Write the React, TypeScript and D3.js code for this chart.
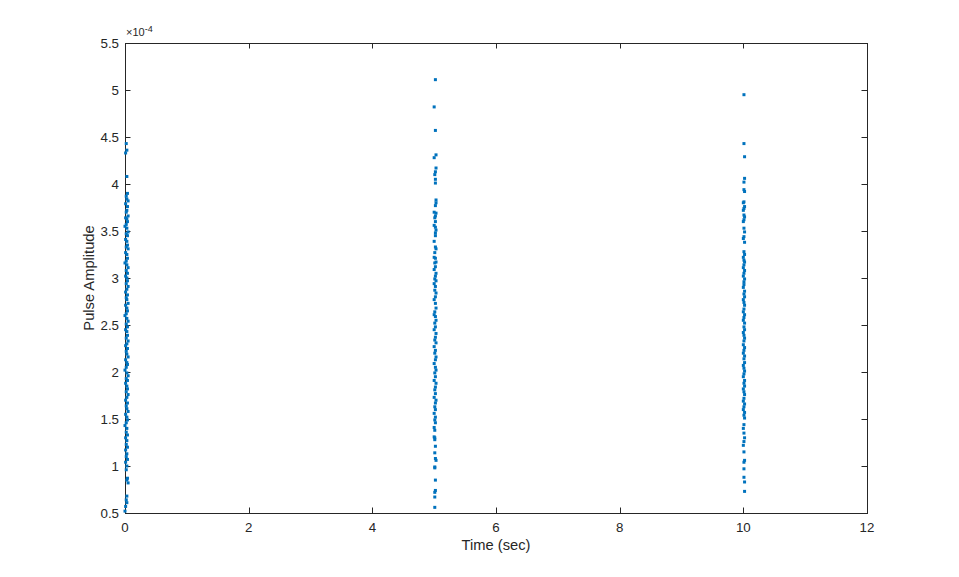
import * as d3 from 'd3';

// pulse amplitudes (x1e-4), as [time, amplitude]
const burst0: [number, number][] = [
  [0.02,4.43],[0.03,4.36],[0.01,4.33],[0.03,4.08],[0.04,3.90],[0.02,3.87],[0.03,3.84],[0.05,3.82],[0.01,3.79],[0.04,3.76],
  [0.03,3.72],[0.02,3.70],[0.05,3.66],[0.01,3.64],[0.03,3.63],[0.04,3.60],[0.02,3.57],[0.00,3.55],[0.03,3.53],[0.05,3.49],
  [0.02,3.47],[0.04,3.45],[0.01,3.41],[0.03,3.39],[0.04,3.35],[0.02,3.33],[0.05,3.31],[0.01,3.27],[0.03,3.25],[0.04,3.21],
  [0.02,3.18],[0.00,3.16],[0.03,3.14],[0.05,3.11],[0.02,3.08],[0.04,3.05],[0.01,3.02],[0.03,3.00],[0.04,2.97],[0.02,2.94],
  [0.05,2.91],[0.03,2.88],[0.01,2.85],[0.04,2.82],[0.02,2.79],[0.03,2.77],[0.05,2.73],[0.01,2.71],[0.03,2.68],[0.04,2.65],
  [0.02,2.62],[0.00,2.60],[0.03,2.57],[0.05,2.54],[0.02,2.51],[0.04,2.48],[0.01,2.45],[0.03,2.43],[0.04,2.39],[0.02,2.36],
  [0.05,2.33],[0.03,2.30],[0.01,2.28],[0.04,2.25],[0.02,2.22],[0.03,2.19],[0.05,2.16],[0.01,2.13],[0.03,2.10],[0.04,2.08],
  [0.02,2.05],[0.00,2.02],[0.03,1.99],[0.05,1.96],[0.02,1.93],[0.04,1.91],[0.01,1.88],[0.03,1.85],[0.04,1.82],[0.02,1.79],
  [0.05,1.76],[0.03,1.73],[0.01,1.70],[0.04,1.67],[0.02,1.64],[0.03,1.61],[0.05,1.58],[0.01,1.55],[0.03,1.52],[0.04,1.49],
  [0.02,1.46],[0.00,1.43],[0.03,1.40],[0.02,1.36],[0.04,1.33],[0.01,1.30],[0.03,1.27],[0.02,1.23],[0.04,1.20],[0.01,1.17],
  [0.03,1.13],[0.02,1.10],[0.04,1.07],[0.01,1.04],[0.03,1.00],[0.02,0.96],[0.04,0.87],[0.03,0.85],[0.05,0.82],[0.03,0.68],
  [0.02,0.64],[0.03,0.61],[0.01,0.57],[0.00,0.52],
];

const burst5: [number, number][] = [
  [5.02,5.11],[5.00,4.82],[5.02,4.57],[5.03,4.31],[5.00,4.28],[5.03,4.17],[5.02,4.13],[5.01,4.10],[5.02,4.05],[5.02,4.01],
  [5.03,3.83],[5.03,3.80],[5.02,3.77],[5.00,3.70],[5.03,3.69],[5.02,3.66],[5.01,3.64],[5.02,3.60],[5.00,3.56],[5.02,3.54],
  [5.03,3.51],[5.02,3.48],[5.02,3.45],[5.00,3.39],[5.02,3.33],[5.03,3.31],[5.01,3.27],[5.00,3.22],[5.02,3.21],[5.03,3.17],
  [5.01,3.16],[5.02,3.12],[5.00,3.09],[5.03,3.05],[5.02,3.02],[5.01,2.99],[5.03,2.97],[5.00,2.94],[5.02,2.91],[5.01,2.87],
  [5.03,2.84],[5.02,2.80],[5.00,2.77],[5.02,2.73],[5.03,2.68],[5.01,2.64],[5.00,2.61],[5.02,2.59],[5.03,2.55],[5.01,2.52],
  [5.02,2.48],[5.00,2.45],[5.03,2.41],[5.02,2.37],[5.01,2.34],[5.03,2.31],[5.00,2.27],[5.02,2.23],[5.01,2.20],[5.03,2.16],
  [5.02,2.13],[5.00,2.09],[5.02,2.05],[5.03,2.02],[5.01,1.99],[5.02,1.95],[5.00,1.91],[5.03,1.88],[5.02,1.84],[5.01,1.81],
  [5.02,1.77],[5.00,1.73],[5.03,1.70],[5.02,1.67],[5.01,1.63],[5.02,1.60],[5.00,1.56],[5.02,1.52],[5.01,1.49],[5.02,1.46],
  [5.00,1.41],[5.01,1.38],[5.00,1.31],[5.01,1.30],[5.01,1.28],[5.02,1.21],[5.01,1.14],[5.02,1.08],[5.03,1.06],[5.01,0.99],
  [5.01,0.98],[5.02,0.85],[5.02,0.74],[5.01,0.72],[5.01,0.67],[5.01,0.56],
];

const burst10: [number, number][] = [
  [10.01,4.95],[10.01,4.43],[10.02,4.29],[10.02,4.06],[10.01,4.02],[10.01,3.94],[10.02,3.92],[10.01,3.81],[10.00,3.80],[10.02,3.76],
  [10.01,3.74],[10.00,3.72],[10.01,3.67],[10.02,3.65],[10.01,3.62],[10.00,3.60],[10.01,3.53],[10.02,3.49],[10.01,3.44],[10.00,3.42],
  [10.02,3.38],[10.01,3.28],[10.02,3.25],[10.00,3.22],[10.01,3.19],[10.02,3.17],[10.01,3.14],[10.00,3.11],[10.02,3.08],[10.01,3.05],
  [10.00,3.02],[10.02,2.99],[10.01,2.96],[10.01,2.93],[10.00,2.90],[10.02,2.86],[10.01,2.83],[10.02,2.80],[10.00,2.77],[10.01,2.74],
  [10.02,2.71],[10.01,2.67],[10.00,2.64],[10.02,2.61],[10.01,2.58],[10.00,2.55],[10.02,2.52],[10.01,2.48],[10.02,2.45],[10.00,2.42],
  [10.01,2.39],[10.02,2.36],[10.01,2.33],[10.00,2.29],[10.02,2.26],[10.01,2.23],[10.00,2.20],[10.02,2.17],[10.01,2.14],[10.02,2.10],
  [10.00,2.07],[10.01,2.04],[10.02,2.01],[10.01,1.98],[10.00,1.95],[10.02,1.91],[10.01,1.88],[10.02,1.85],[10.00,1.82],[10.01,1.79],
  [10.02,1.76],[10.01,1.72],[10.00,1.69],[10.02,1.66],[10.01,1.63],[10.00,1.60],[10.02,1.57],[10.01,1.54],[10.02,1.51],[10.01,1.44],
  [10.00,1.40],[10.01,1.35],[10.02,1.30],[10.01,1.26],[10.00,1.22],[10.01,1.15],[10.02,1.06],[10.01,1.04],[10.01,0.97],[10.01,0.88],
  [10.02,0.83],[10.02,0.73],
];

const xTicks = [0, 2, 4, 6, 8, 10, 12];
const yTicks = [0.5, 1, 1.5, 2, 2.5, 3, 3.5, 4, 4.5, 5, 5.5];

const W = 959;
const H = 577;
const margin = { top: 43, right: 92, bottom: 64, left: 125 };
const ink = '#262626';
const font = '"Liberation Sans", Arial, Helvetica, sans-serif';

const App = () => {
  const x = d3.scaleLinear().domain([0, 12]).range([margin.left, W - margin.right]);
  const y = d3.scaleLinear().domain([0.5, 5.5]).range([H - margin.bottom, margin.top]);
  const [x0, x1] = x.range();
  const [y0, y1] = y.range();
  const tick = 5.5;
  const points = [...burst0, ...burst5, ...burst10];

  return (
    <svg width={W} height={H} style={{ position: 'absolute', left: 0, top: 0, background: '#fff' }} fontFamily={font}>
      <rect x={x0} y={y1} width={x1 - x0} height={y0 - y1} fill="#fff" />
      {/* ticks, inward on all four sides */}
      {xTicks.map(t => (
        <g key={'xt' + t} stroke={ink} strokeWidth={1}>
          <line x1={Math.round(x(t)) + 0.5} x2={Math.round(x(t)) + 0.5} y1={y0} y2={y0 - tick} />
          <line x1={Math.round(x(t)) + 0.5} x2={Math.round(x(t)) + 0.5} y1={y1} y2={y1 + tick} />
        </g>
      ))}
      {yTicks.map(t => (
        <g key={'yt' + t} stroke={ink} strokeWidth={1}>
          <line x1={x0} x2={x0 + tick} y1={Math.round(y(t)) + 0.5} y2={Math.round(y(t)) + 0.5} />
          <line x1={x1} x2={x1 - tick} y1={Math.round(y(t)) + 0.5} y2={Math.round(y(t)) + 0.5} />
        </g>
      ))}
      <rect x={x0 + 0.5} y={y1 + 0.5} width={x1 - x0} height={y0 - y1} fill="none" stroke={ink} strokeWidth={1} />
      {points.map(([t, a], i) => (
        <rect key={i} x={x(t) - 1.5} y={y(a) - 1.5} width={3} height={3} fill="#0072BD" />
      ))}
      {xTicks.map(t => (
        <text key={'xl' + t} x={x(t)} y={y0 + 19} textAnchor="middle" fontSize={13.3} fill={ink}>{t}</text>
      ))}
      {yTicks.map(t => (
        <text key={'yl' + t} x={x0 - 6} y={y(t) + 4.5} textAnchor="end" fontSize={13.3} fill={ink}>{t}</text>
      ))}
      <text x={x0 + 1} y={y1 - 7} fontSize={11} fill={ink}>
        ×10<tspan dy={-4} fontSize={9}>-4</tspan>
      </text>
      <text x={(x0 + x1) / 2} y={y0 + 37} textAnchor="middle" fontSize={14.7} fill={ink}>Time (sec)</text>
      <text transform={`translate(${x0 - 31},${(y0 + y1) / 2}) rotate(-90)`} textAnchor="middle" fontSize={14.7} fill={ink}>Pulse Amplitude</text>
    </svg>
  );
};

export default App;
